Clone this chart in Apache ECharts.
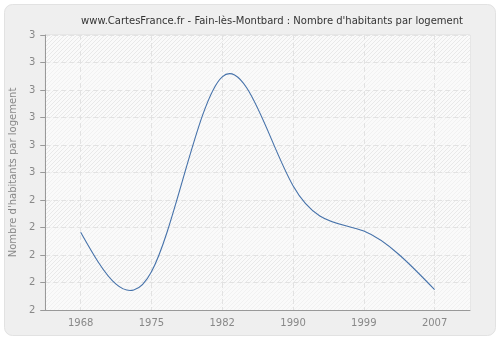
<!DOCTYPE html>
<html>
<head>
<meta charset="utf-8">
<script src="https://cdn.jsdelivr.net/npm/echarts@6/dist/echarts.min.js"></script>
<style>
html,body{margin:0;padding:0;background:#ffffff;}
#c{width:500px;height:340px;}
</style>
</head>
<body>
<div id="c"></div>
<script>
var titleText = "www.CartesFrance.fr - Fain-lès-Montbard : Nombre d'habitants par logement";
var yAxisName = "Nombre d'habitants par logement";
var years = ["1968", "1975", "1982", "1990", "1999", "2007"];
var values = [2.283, 2.139, 2.848, 2.452, 2.287, 2.074];
var yMin = 2, yMax = 3, yStep = 0.1;

function makePattern(bg, line) {
  var c = document.createElement('canvas');
  c.width = 4; c.height = 4;
  var g = c.getContext('2d');
  g.fillStyle = bg; g.fillRect(0, 0, 4, 4);
  g.strokeStyle = line; g.lineWidth = 1;
  g.beginPath();
  g.moveTo(-1, 5); g.lineTo(5, -1);
  g.stroke();
  return { image: c, repeat: 'repeat' };
}
var faint = makePattern('#fafafa', '#f1f1f1');
var strong = makePattern('#fafafa', '#e9e9e9');

// Natural cubic spline through pixel points (uniform parameter), drawn as bezier path
function splinePath(pts) {
  var n = pts.length;
  var ys = pts.map(function (p) { return p[1]; });
  var M = new Array(n).fill(0);
  if (n > 2) {
    var m = n - 2, d = [];
    for (var i = 1; i < n - 1; i++) d.push(6 * (ys[i + 1] - 2 * ys[i] + ys[i - 1]));
    var cp = [], dp = [];
    for (var k = 0; k < m; k++) {
      var den = 4 - (k > 0 ? cp[k - 1] : 0);
      cp[k] = 1 / den;
      dp[k] = (d[k] - (k > 0 ? dp[k - 1] : 0)) / den;
    }
    var sol = [];
    for (var k2 = m - 1; k2 >= 0; k2--) sol[k2] = dp[k2] - (k2 < m - 1 ? cp[k2] * sol[k2 + 1] : 0);
    for (var k3 = 0; k3 < m; k3++) M[k3 + 1] = sol[k3];
  }
  var path = 'M' + pts[0][0] + ' ' + pts[0][1];
  for (var j = 0; j < n - 1; j++) {
    var x0 = pts[j][0], x1 = pts[j + 1][0], y0 = ys[j], y1 = ys[j + 1];
    var d0 = (y1 - y0) - (2 * M[j] + M[j + 1]) / 6;
    var d1 = (y1 - y0) + (M[j] + 2 * M[j + 1]) / 6;
    path += ' C' + (x0 + (x1 - x0) / 3) + ' ' + (y0 + d0 / 3) + ' ' +
      (x0 + 2 * (x1 - x0) / 3) + ' ' + (y1 - d1 / 3) + ' ' + x1 + ' ' + y1;
  }
  return path;
}

var chart = echarts.init(document.getElementById('c'), null, { renderer: 'canvas' });
chart.setOption({
  animation: false,
  backgroundColor: '#ffffff',
  graphic: [{
    type: 'rect', z: -10, silent: true,
    shape: { x: 4.5, y: 4.5, width: 491, height: 331, r: 8 },
    style: { fill: '#efefef', stroke: '#e2e2e2', lineWidth: 1 }
  }],
  title: {
    text: titleText,
    left: 267, top: 11, textAlign: 'center',
    textStyle: { fontFamily: 'DejaVu Sans', fontSize: 10, fontWeight: 'normal', color: '#333333' }
  },
  grid: {
    left: 40, right: 30, top: 35, bottom: 30,
    show: true, backgroundColor: 'transparent', borderColor: '#dddddd', borderWidth: 1
  },
  xAxis: {
    type: 'category',
    data: years,
    boundaryGap: true,
    axisLine: { lineStyle: { color: '#999999' } },
    axisTick: { alignWithLabel: true, length: 5, lineStyle: { color: '#999999' } },
    axisLabel: { color: '#888888', fontFamily: 'DejaVu Sans', fontSize: 10, margin: 8 },
    splitLine: { show: true, interval: 0, alignWithLabel: true, lineStyle: { color: '#e2e2e2', type: [5, 3] } }
  },
  yAxis: {
    type: 'value',
    min: yMin, max: yMax, interval: yStep,
    name: yAxisName,
    nameLocation: 'middle',
    nameGap: 27,
    nameTextStyle: { color: '#888888', fontFamily: 'DejaVu Sans', fontSize: 10 },
    axisLine: { show: true, lineStyle: { color: '#999999' } },
    axisTick: { show: true, length: 5, lineStyle: { color: '#999999' } },
    axisLabel: {
      color: '#888888', fontFamily: 'DejaVu Sans', fontSize: 10, margin: 10,
      formatter: function (v) { return String(Math.round(v + 1e-9)); }
    },
    splitLine: { show: true, lineStyle: { color: '#e2e2e2', type: [5, 3] } },
    splitArea: { show: true, areaStyle: { color: [faint, strong] } }
  },
  series: [{
    type: 'custom',
    data: values.map(function (v, i) { return [i, v]; }),
    encode: { x: 0, y: 1 },
    renderItem: function (params, api) {
      if (params.dataIndex !== 0) return null;
      var pts = values.map(function (v, i) { return api.coord([i, v]); });
      return {
        type: 'path',
        shape: { pathData: splinePath(pts) },
        style: { fill: 'none', stroke: '#4672aa', lineWidth: 1.1 }
      };
    }
  }]
});
</script>
</body>
</html>
